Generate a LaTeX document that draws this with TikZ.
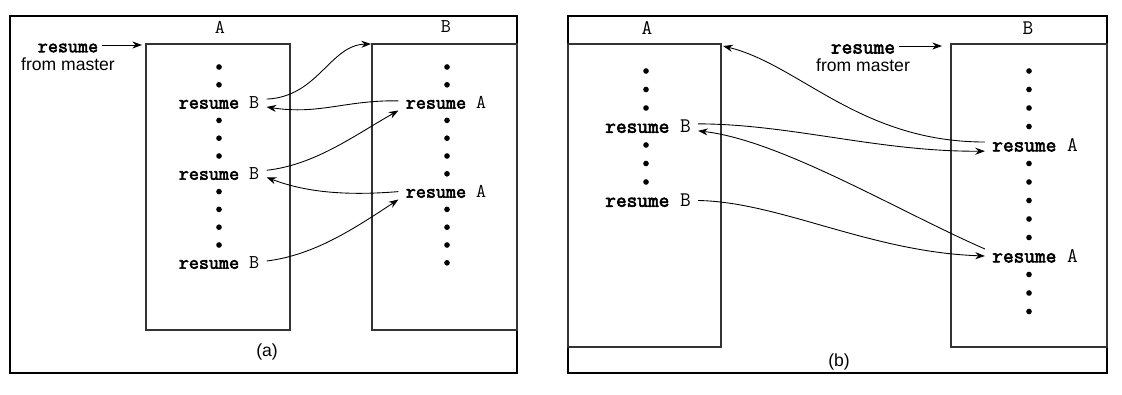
\documentclass[tikz,border=0pt]{standalone}
\usepackage{fontspec}
\setmainfont{Liberation Sans}
\newfontfamily\codefont{Latin Modern Mono}
\newfontfamily\kwfont{Latin Modern Mono}[FakeBold=3]
\usetikzlibrary{arrows.meta,positioning,calc}

\begin{document}
\begin{tikzpicture}[x=0.02cm,y=-0.02cm,
    frame/.style={line width=1pt},
    box/.style={line width=0.6pt,black!80},
    cmda/.style={font=\codefont\fontsize{11.1}{13}\selectfont,inner sep=4pt},
    cmdb/.style={font=\codefont\fontsize{11.8}{14}\selectfont,inner sep=4pt},
    note/.style={font=\fontsize{10}{12}\selectfont,inner sep=1pt},
    arr/.style={-{Stealth[length=5.5pt,width=4pt]},line width=0.5pt}]
  \useasboundingbox (0,0) rectangle (1122,395);

  % (a)
  \draw[frame] (10,16) rectangle (517,373);
  \draw[box] (146,44) rectangle (290,330);
  \draw[box] (372,44) rectangle (517,330);
  \node[cmda] (hAa) at (220,27) {A};
  \node[cmda] (hBa) at (446,27) {B};
  \node[cmda,inner sep=2pt] (mastA) at (68,48) {{\kwfont resume}};
  \node[note] (mastAtxt) at (68,64) {from master};
  \coordinate (aIn) at (142,45);
  \draw[arr] (mastA.east |- aIn) -- (aIn);
  \foreach \y in {67,84.8,120.4,138.2,156,191.6,209.4,227.2,245}
    \fill (219,\y) circle[radius=1.6pt];
  \foreach \y in {67,84.8,120.4,138.2,156,173.8,209.4,227.2,245,262.8}
    \fill (447,\y) circle[radius=1.6pt];
  \node[cmda] (aB1) at (219,102.6) {{\kwfont resume} B};
  \node[cmda] (aB2) at (219,173.8) {{\kwfont resume} B};
  \node[cmda] (aB3) at (219,262.8) {{\kwfont resume} B};
  \node[cmda] (aA1) at (446,102.6) {{\kwfont resume} A};
  \node[cmda] (aA2) at (446,191.6) {{\kwfont resume} A};
  \coordinate (aBtop) at (371,44);
  \draw[arr] ([yshift=2pt]aB1.east) .. controls (318,97) and (330,45) .. (aBtop);
  \draw[arr] ([yshift=1pt]aA1.west) .. controls (345,100) and (320,115) .. ([yshift=-2.5pt]aB1.east);
  \draw[arr] ([yshift=2pt]aB2.east) .. controls (315,165) and (355,135) .. ([yshift=-4.5pt]aA1.west);
  \draw[arr] (aA2.west) .. controls (345,196) and (305,192) .. ([yshift=-2pt]aB2.east);
  \draw[arr] ([yshift=1pt]aB3.east) .. controls (315,255) and (355,228) .. ([yshift=-4.5pt]aA2.west);
  \node[note] (capa) at (267,352) {(a)};

  % (b)
  \draw[frame] (568,16) rectangle (1107,373);
  \draw[box] (568,44) rectangle (721,347);
  \draw[box] (951,44) rectangle (1107,347);
  \node[cmdb] (hAb) at (647,28) {A};
  \node[cmdb] (hBb) at (1028,28) {B};
  \node[cmdb,inner sep=2pt] (mastB) at (863,49) {{\kwfont resume}};
  \node[note] (mastBtxt) at (863,65) {from master};
  \coordinate (bIn) at (942,46);
  \draw[arr] (mastB.east |- bIn) -- (bIn);
  \foreach \y in {71,89.5,108,145,163.5,182}
    \fill (646,\y) circle[radius=1.6pt];
  \foreach \y in {71,89.5,108,126.5,163.5,182,200.5,219,237.5,274.5,293,311.5}
    \fill (1029,\y) circle[radius=1.6pt];
  \node[cmdb] (bB1) at (648,126.5) {{\kwfont resume} B};
  \node[cmdb] (bB2) at (648,200.5) {{\kwfont resume} B};
  \node[cmdb] (bA1) at (1035,145) {{\kwfont resume} A};
  \node[cmdb] (bA2) at (1035,256) {{\kwfont resume} A};
  \coordinate (bAtop) at (723,46);
  \draw[arr] ([yshift=1.7pt]bA1.west) .. controls (860,142) and (800,65) .. (bAtop);
  \draw[arr] ([yshift=1.5pt]bB1.east) .. controls (790,124) and (880,152) .. ([yshift=-3.5pt]bA1.west);
  \draw[arr] ([yshift=4pt]bA2.west) .. controls (900,212) and (780,140) .. ([yshift=-2.5pt]bB1.east);
  \draw[arr] (bB2.east) .. controls (780,202) and (870,252) .. (bA2.west);
  \node[note] (capb) at (839,362) {(b)};
\end{tikzpicture}
\end{document}
